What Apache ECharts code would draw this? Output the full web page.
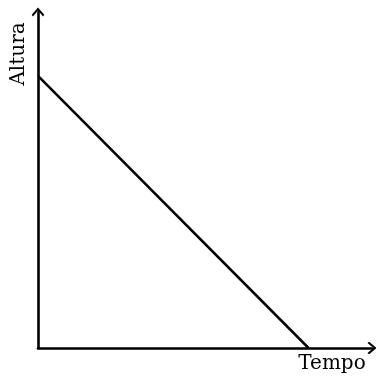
<!DOCTYPE html>
<html>
<head>
<meta charset="utf-8">
<script src="https://cdn.jsdelivr.net/npm/echarts@6/dist/echarts.min.js"></script>
<style>
html, body { margin: 0; padding: 0; background: #fff; }
#chart { width: 376px; height: 380px; }
</style>
</head>
<body>
<div id="chart"></div>
<script>
// data
var tempo = [0, 8.1];
var altura = [8.1, 0];
var axisMax = 10;

var chevron = 'path://M0,7 L6,0 L12,7 L10.8,8.6 L6,2.9 L1.2,8.6 Z';

var chart = echarts.init(document.getElementById('chart'));

var pts = [];
for (var i = 0; i < tempo.length; i++) {
	pts.push([tempo[i], altura[i]]);
}

var axisCommon = {
	type: 'value',
	min: 0,
	max: axisMax,
	axisLine: {
		show: true,
		symbol: ['none', chevron],
		symbolSize: [13, 9],
		lineStyle: { color: '#000', width: 2.6 }
	},
	axisTick: { show: false },
	axisLabel: { show: false },
	splitLine: { show: false }
};

chart.setOption({
	animation: false,
	grid: { left: 38, right: 4, top: 12, bottom: 32 },
	xAxis: axisCommon,
	yAxis: axisCommon,
	series: [{
		type: 'line',
		data: pts,
		showSymbol: false,
		lineStyle: { color: '#000', width: 2.5 }
	}],
	graphic: [
		{
			type: 'text',
			x: 19, y: 54,
			rotation: Math.PI / 2,
			style: {
				text: 'Altura',
				font: '20px "DejaVu Serif"',
				fill: '#000',
				textAlign: 'center',
				textVerticalAlign: 'middle'
			}
		},
		{
			type: 'text',
			x: 332, y: 364,
			style: {
				text: 'Tempo',
				font: '20px "DejaVu Serif"',
				fill: '#000',
				textAlign: 'center',
				textVerticalAlign: 'middle'
			}
		}
	]
});
</script>
</body>
</html>
